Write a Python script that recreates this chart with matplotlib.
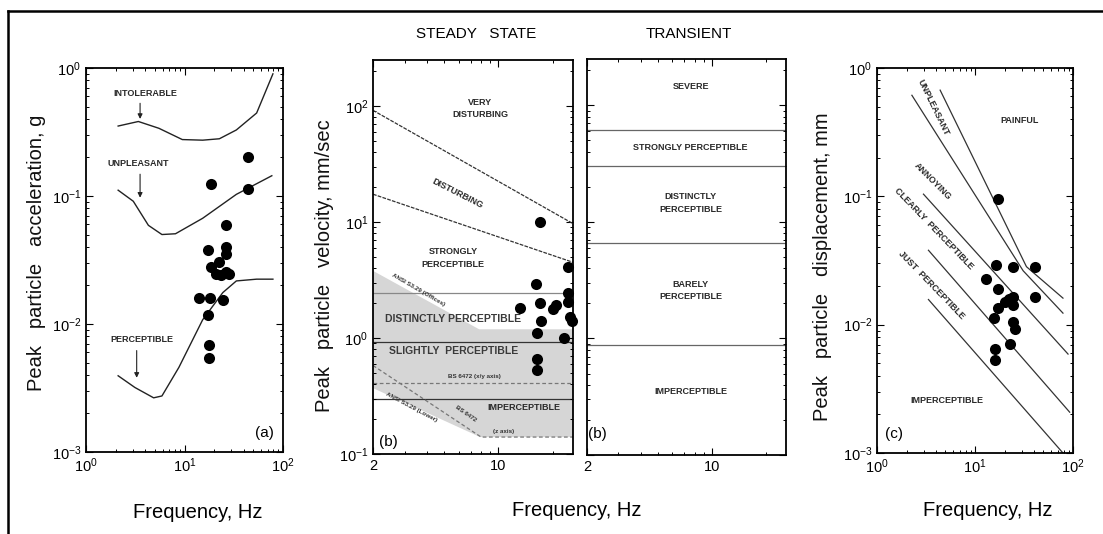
import numpy as np
import matplotlib
matplotlib.use('Agg')
import matplotlib.pyplot as plt
from matplotlib.lines import Line2D
from matplotlib.ticker import FixedLocator, FixedFormatter, NullFormatter

plt.rcParams['font.family'] = ['Liberation Sans', 'DejaVu Sans']
plt.rcParams['mathtext.fontset'] = 'custom'
plt.rcParams['mathtext.rm'] = 'Liberation Sans'
plt.rcParams['mathtext.it'] = 'Liberation Sans:italic'
plt.rcParams['mathtext.bf'] = 'Liberation Sans:bold'

# ---------------- Panel (a): acceleration ----------------
acc_freq = [44.3, 44.3, 18.6, 26.1, 26.1, 26.1, 17.2, 18.6, 22.6, 26.1, 23.6, 20.9,
            28.3, 13.9, 18.2, 24.5, 17.2, 17.6, 17.6]
acc_val = [0.20, 0.113, 0.124, 0.059, 0.040, 0.035, 0.0376, 0.0277, 0.0304, 0.0256,
           0.0241, 0.0245, 0.0245, 0.016, 0.016, 0.0155, 0.0118, 0.0068, 0.0054]
intol_f = [2.12, 3.4, 5.5, 9.5, 15.3, 22.6, 33.6, 54, 79]
intol_g = [0.352, 0.382, 0.338, 0.276, 0.273, 0.28, 0.328, 0.445, 0.90]
unpl_f = [2.12, 3.02, 4.3, 5.9, 8.1, 15.3, 33.6, 77]
unpl_g = [0.111, 0.091, 0.059, 0.050, 0.0507, 0.067, 0.103, 0.144]
perc_f = [2.12, 3.14, 4.86, 5.9, 8.78, 15.3, 24.5, 33.6, 54, 79]
perc_g = [0.00394, 0.00319, 0.00265, 0.00274, 0.00459, 0.0108, 0.0176, 0.0217, 0.0224, 0.0224]

# ---------------- Panel (b): steady state velocity ----------------
ss_freq = [17.1, 16.1, 24.3, 13.1, 17.1, 20.8, 20.2, 24.3, 24.3, 25.0, 25.8, 17.3,
           16.3, 23.3, 16.3, 16.3]
ss_vel = [10.0, 2.9, 4.1, 1.8, 1.99, 1.92, 1.77, 2.43, 2.06, 1.53, 1.40, 1.41,
          1.11, 1.0, 0.66, 0.53]
very_dist_f = [2, 26]
very_dist_v = [92, 9.7]
dist_f = [2, 26]
dist_v = [17.4, 4.5]
strongly_v = 2.45
distinct_v = 0.92
bs_xy_v = 0.41
slight_v = 0.30
ansi_off_f = [2, 7.8, 26]
ansi_off_v = [3.8, 1.19, 1.19]
ansi_low_f = [2, 7.9, 26]
ansi_low_v = [0.37, 0.14, 0.14]
bs_z_f = [2, 8.0, 26]
bs_z_v = [0.58, 0.14, 0.14]

# ---------------- Panel (b): transient ----------------
tr_levels = [0.88, 6.6, 30, 62]

# ---------------- Panel (c): displacement ----------------
disp_freq = [17, 16.4, 24.2, 40.7, 40.7, 13.1, 17, 22.4, 24.2, 20.2, 17, 24.2, 15.6,
             24.2, 25.5, 22.7, 16, 16]
disp_val = [0.095, 0.029, 0.028, 0.028, 0.0165, 0.0225, 0.019, 0.0158, 0.0165, 0.015,
            0.0135, 0.0143, 0.0112, 0.0105, 0.0092, 0.0071, 0.0065, 0.0053]
painful_f = [4.41, 33.5, 79]
painful_d = [0.672, 0.0283, 0.0161]
unplc_f = [2.27, 31, 79]
unplc_d = [0.613, 0.0263, 0.0123]
annoy_f = [2.98, 89]
annoy_d = [0.104, 0.0059]
clear_f = [3.35, 92.5]
clear_d = [0.038, 0.00208]
just_f = [3.35, 79]
just_d = [0.0157, 0.001]

W, H = 1103, 534
fig = plt.figure(figsize=(W / 100, H / 100), dpi=100)


def rect(l, r, t, b):
    return [l / W, (H - b) / H, (r - l) / W, (b - t) / H]


def style(ax):
    ax.tick_params(which='both', direction='in', top=True, right=True, labelsize=10.5)
    ax.tick_params(which='major', length=5, width=0.8)
    ax.tick_params(which='minor', length=2.5, width=0.7)
    for s in ax.spines.values():
        s.set_linewidth(1.3)


TXT = dict(fontsize=6.5, color='#2a2a2a', ha='center', va='center', fontweight='bold')
dot = dict(s=64, color='black', zorder=5, linewidths=0)
LBL = dict(fontsize=14.5, ha='center', va='center', color='#111')

# ---- (a)
axa = fig.add_axes(rect(86, 283, 68, 452))
axa.set_xscale('log'); axa.set_yscale('log')
axa.set_xlim(1, 100); axa.set_ylim(1e-3, 1)
style(axa)
axa.plot(intol_f, intol_g, color='#222', lw=1.0)
axa.plot(unpl_f, unpl_g, color='#222', lw=1.0)
axa.plot(perc_f, perc_g, color='#222', lw=1.0)
axa.scatter(acc_freq, acc_val, **dot)
axa.text(3.98, 0.633, 'INTOLERABLE', **TXT)
axa.text(3.4, 0.178, 'UNPLEASANT', **TXT)
axa.text(3.68, 0.00757, 'PERCEPTIBLE', **TXT)
arr = dict(arrowstyle='-|>', lw=0.8, color='#222', mutation_scale=7, shrinkA=0, shrinkB=0)
axa.annotate('', xy=(3.54, 0.40), xytext=(3.54, 0.53), arrowprops=arr)
axa.annotate('', xy=(3.54, 0.097), xytext=(3.54, 0.148), arrowprops=arr)
axa.annotate('', xy=(3.27, 0.0038), xytext=(3.27, 0.0062), arrowprops=arr)
axa.text(65, 0.0014, '(a)', fontsize=11, ha='center', va='center')
fig.text(36.7 / W, (H - 253) / H, 'Peak   particle   acceleration, g', rotation=90, **LBL)
fig.text(198 / W, (H - 513) / H, 'Frequency, Hz', fontsize=14.5, ha='center', va='center')

# ---- (b) steady state
axs = fig.add_axes(rect(373, 573, 60, 454))
axs.set_xscale('log'); axs.set_yscale('log')
axs.set_xlim(2, 26); axs.set_ylim(0.1, 250)
style(axs)
axs.xaxis.set_major_locator(FixedLocator([2, 10]))
axs.xaxis.set_major_formatter(FixedFormatter(['2', '10']))
axs.xaxis.set_minor_locator(FixedLocator([3, 4, 5, 6, 7, 8, 9, 20]))
axs.xaxis.set_minor_formatter(NullFormatter())
axs.fill(np.concatenate([ansi_off_f, ansi_low_f[::-1]]),
         np.concatenate([ansi_off_v, ansi_low_v[::-1]]),
         color='#d6d6d6', lw=0, zorder=0)
axs.plot(very_dist_f, very_dist_v, color='#333', lw=0.9, ls=(0, (3, 1)), zorder=2)
axs.plot(dist_f, dist_v, color='#333', lw=0.9, ls=(0, (3, 1)), zorder=2)
axs.axhline(strongly_v, color='#888', lw=0.9, zorder=1)
axs.axhline(distinct_v, color='#333', lw=0.9, zorder=1)
axs.axhline(bs_xy_v, color='#777', lw=0.9, ls=(0, (3, 2)), zorder=1)
axs.axhline(slight_v, color='#333', lw=0.9, zorder=1)
axs.plot(bs_z_f, bs_z_v, color='#777', lw=0.9, ls=(0, (3, 2)), zorder=1)
axs.text(7.9, 95, 'VERY\nDISTURBING', linespacing=1.5, **TXT)
axs.text(5.9, 17.8, 'DISTURBING', rotation=-27, **TXT)
axs.text(5.6, 4.9, 'STRONGLY\nPERCEPTIBLE', linespacing=1.5, **TXT)
axs.text(5.6, 1.46, 'DISTINCTLY PERCEPTIBLE', fontsize=7.5, color='#3a3a3a', ha='center',
         va='center', fontweight='bold')
axs.text(5.6, 0.78, 'SLIGHTLY  PERCEPTIBLE', fontsize=7.5, color='#3a3a3a', ha='center',
         va='center', fontweight='bold')
axs.text(13.8, 0.25, 'IMPERCEPTIBLE', **TXT)
small = dict(fontsize=4.5, color='#333', ha='center', va='center', fontweight='bold')
axs.text(3.57, 2.59, 'ANSI S3.29 (Offices)', rotation=-30, **small)
axs.text(3.28, 0.252, 'ANSI S3.29 (Lower)', rotation=-28, **small)
axs.text(6.58, 0.221, 'BS 6472', rotation=-35, **small)
axs.text(10.7, 0.156, '(z axis)', **small)
axs.text(7.3, 0.464, 'BS 6472 (x/y axis)', **small)
axs.text(2.43, 0.127, '(b)', fontsize=11, ha='center', va='center')
axs.scatter(ss_freq, ss_vel, clip_on=False, **dot)
fig.text(324 / W, (H - 266) / H, 'Peak   particle   velocity, mm/sec', rotation=90, **LBL)
fig.text(476 / W, (H - 34) / H, 'STEADY   STATE', fontsize=11, ha='center', va='center')

# ---- (b) transient
axt = fig.add_axes(rect(587, 786, 59, 455))
axt.set_xscale('log'); axt.set_yscale('log')
axt.set_xlim(2, 26); axt.set_ylim(0.1, 250)
style(axt)
axt.xaxis.set_major_locator(FixedLocator([2, 10]))
axt.xaxis.set_major_formatter(FixedFormatter(['2', '10']))
axt.xaxis.set_minor_locator(FixedLocator([3, 4, 5, 6, 7, 8, 9, 20]))
axt.xaxis.set_minor_formatter(NullFormatter())
axt.tick_params(labelleft=False)
for lv in tr_levels:
    axt.axhline(lv, color='#666', lw=0.9)
axt.text(7.6, 145, 'SEVERE', **TXT)
axt.text(7.6, 43.7, 'STRONGLY PERCEPTIBLE', **TXT)
axt.text(7.6, 14.5, 'DISTINCTLY\nPERCEPTIBLE', linespacing=1.5, **TXT)
axt.text(7.6, 2.58, 'BARELY\nPERCEPTIBLE', linespacing=1.5, **TXT)
axt.text(7.6, 0.35, 'IMPERCEPTIBLE', **TXT)
axt.text(2.3, 0.15, '(b)', fontsize=11, ha='center', va='center')
fig.text(689 / W, (H - 34) / H, 'TRANSIENT', fontsize=11, ha='center', va='center')
fig.text(577 / W, (H - 510) / H, 'Frequency, Hz', fontsize=14.5, ha='center', va='center')

# ---- (c)
axc = fig.add_axes(rect(877, 1073, 68, 453))
axc.set_xscale('log'); axc.set_yscale('log')
axc.set_xlim(1, 100); axc.set_ylim(1e-3, 1)
style(axc)
for fx, dy in [(painful_f, painful_d), (unplc_f, unplc_d), (annoy_f, annoy_d),
               (clear_f, clear_d), (just_f, just_d)]:
    axc.plot(fx, dy, color='#333', lw=0.9)
axc.scatter(disp_freq, disp_val, **dot)
axc.text(3.77, 0.49, 'UNPLEASANT', rotation=-64, **TXT)
axc.text(28.7, 0.39, 'PAINFUL', **TXT)
axc.text(3.68, 0.131, 'ANNOYING', rotation=-45, **TXT)
axc.text(3.77, 0.0565, 'CLEARLY  PERCEPTIBLE', rotation=-46, **TXT)
axc.text(3.63, 0.0202, 'JUST  PERCEPTIBLE', rotation=-46, **TXT)
axc.text(5.15, 0.00258, 'IMPERCEPTIBLE', **TXT)
axc.text(1.48, 0.0014, '(c)', fontsize=11, ha='center', va='center')
fig.text(823 / W, (H - 267) / H, 'Peak   particle   displacement, mm', rotation=90, **LBL)
fig.text(988 / W, (H - 510) / H, 'Frequency, Hz', fontsize=14.5, ha='center', va='center')

# frame
fig.add_artist(Line2D([8 / W, 1], [1 - 11 / H, 1 - 11 / H], color='black', lw=1.8))
fig.add_artist(Line2D([8 / W, 8 / W], [0, 1 - 11 / H], color='black', lw=1.8))

fig.savefig('out.png', dpi=100)
